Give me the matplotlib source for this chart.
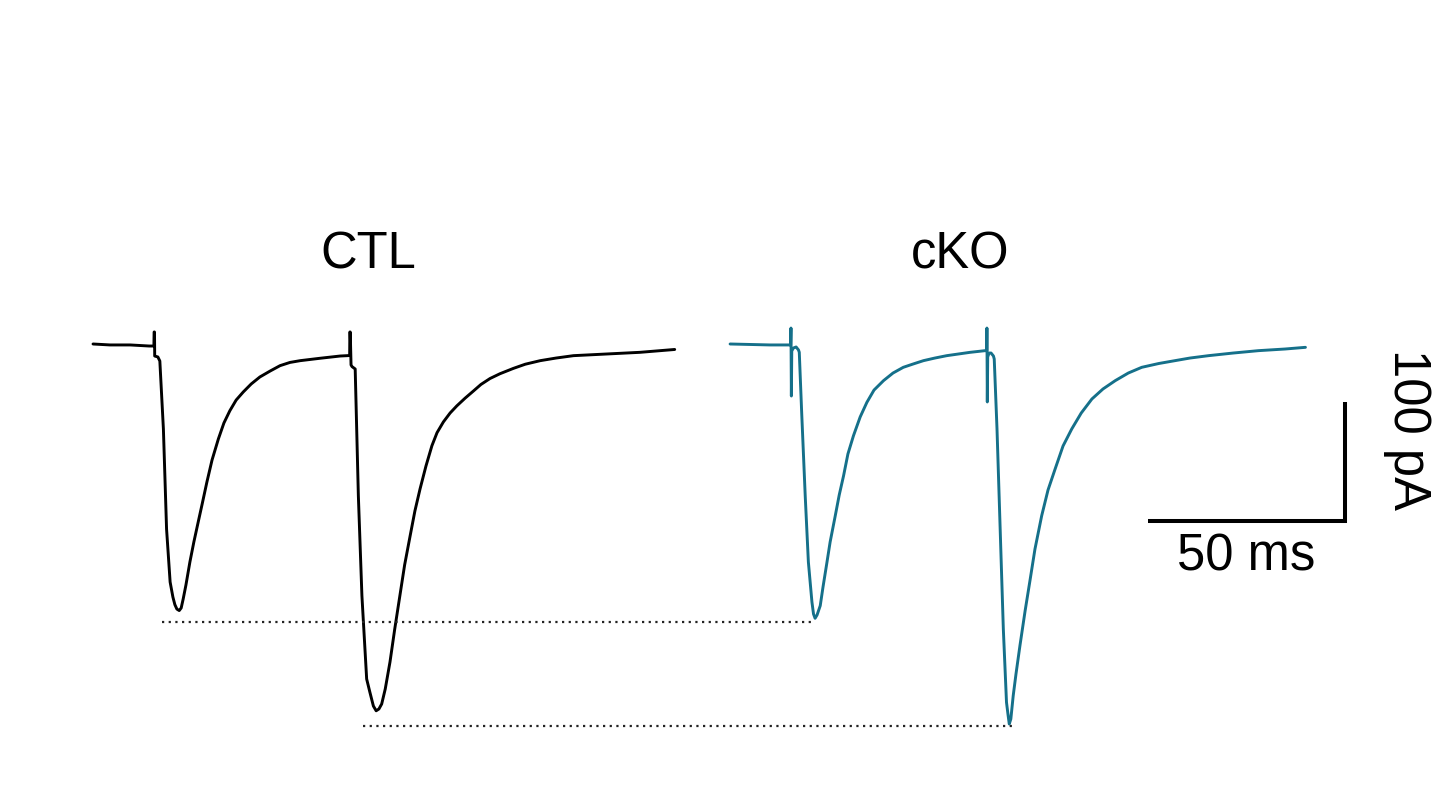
import matplotlib.pyplot as plt

# paired-pulse EPSC traces, time in ms from trace start, current in pA
ctl_time = [0, 4.3, 9.4, 14.2, 15.4, 15.45, 15.55, 15.6, 16.4, 16.9, 17.8, 18.6,
            19.5, 20.2, 20.7, 21.2, 21.8, 22.3, 22.8, 23.5, 24.5, 25.5, 26.6, 27.6,
            28.8, 30.1, 31.7, 33.1, 34.6, 36.2, 38.0, 40.0, 42.2, 44.8, 47.3, 49.8,
            52.4, 57.4, 62.5, 64.9, 64.95, 65.05, 65.25, 65.5, 66.3,
            67.1, 68.0, 69.2, 70.0, 70.9, 71.6, 72.3, 73.0, 73.9, 75.1, 76.3, 77.6,
            78.8, 80.2, 81.4, 82.7, 84.2, 85.7, 87.0, 88.6, 90.3, 92.0, 94.1, 96.2,
            98.1, 100.4, 102.9, 106.3, 109.3, 113.1, 117.1, 121.5, 129.9, 138.3, 147.1]
ctl_current = [0, -0.8, -0.8, -1.7, -1.7, 10.1, 10.1, -10.1, -10.9, -14.3, -71.4,
               -155.5, -200.0, -212.6, -219.0, -222.7, -224.0, -221.8, -214.3, -202.5,
               -183.2, -166.4, -149.6, -134.5, -116.0, -97.5, -79.8, -66.4, -56.1,
               -47.1, -40.3, -33.6, -27.7, -22.7, -18.2, -15.5, -14.0, -12.0,
               -10.1, -9.7, 10.1, 10.1, -17.6, -19.0, -21.0, -127.5, -211.5, -281.5,
               -292.4, -304.2, -308.2, -306.7, -302.5, -289.9, -267.2, -239.5, -211.5,
               -185.7, -161.1, -140.3, -121.8, -102.5, -85.5, -74.5, -65.5, -58.0,
               -52.0, -45.5, -39.5, -34.0, -29.0, -25.0, -20.5, -17.0, -14.0, -11.8,
               -9.8, -8.4, -7.0, -4.6]

cko_time = [0, 5.06, 10.1, 14.9, 15.3, 15.4, 15.5, 15.6, 16.0, 16.7, 17.3, 17.5,
            18.1, 19.0, 19.8, 20.7, 21.1, 21.5, 22.0, 22.8, 23.5, 24.5, 25.3, 26.6,
            27.6, 28.7, 29.8, 31.2, 32.9, 34.6, 36.4, 38.8, 41.2, 43.8, 46.3, 48.9,
            51.8, 54.8, 60.7, 64.5, 64.9, 64.95, 65.05, 65.15,
            65.5, 66.0, 66.6, 66.8, 67.5, 68.3, 69.1, 69.9, 70.3, 70.6, 71.0, 71.6,
            72.3, 73.3, 74.6, 75.9, 77.1, 78.8, 80.4, 82.2, 84.2, 86.4, 88.8, 91.5,
            94.3, 97.4, 100.7, 104.1, 108.4, 112.5, 116.3, 121.0, 127.2, 133.6,
            140.4, 145.5]
cko_current = [0, -0.4, -0.8, -0.8, -0.8, 13.4, -43.7, -5.9, -3.4, -2.5, -5.0, -7.0,
               -57.1, -127.5, -183.2, -216.8, -226.9, -230.5, -227.7, -219.9, -204.2,
               -183.4, -166.4, -144.3, -126.9, -110.7, -92.4, -77.1, -61.3, -49.0,
               -38.7, -30.8, -24.4, -19.6, -16.8, -14.0, -11.8, -9.8, -7.0, -5.6,
               -5.6, 13.4, -48.7, -10.9,
               -7.6, -7.6, -10.1, -12.6, -71.4, -155.5, -239.5, -301.1, -311.8,
               -319.3, -315.1, -295.5, -277.3, -253.5, -224.4, -197.5, -172.3, -144.3,
               -122.7, -105.0, -85.7, -71.4, -58.0, -46.2, -37.8, -30.8, -24.4, -19.6,
               -16.4, -14.0, -11.8, -9.8, -7.6, -5.6, -4.2, -2.8]

labels = ["CTL", "cKO"]
cko_offset = 161.1  # ms, horizontal shift of the cKO trace

# dotted comparison lines (level in pA, start and end in ms)
ref_levels = [-233.9, -321.3]
ref_starts = [17.4, 68.3]
ref_ends = [182.6, 233.5]

scale_ms = 50
scale_pa = 100

fig = plt.figure(figsize=(14.49, 8.04), dpi=100)
ax = fig.add_axes([0, 0, 1, 1])
ax.set_xlim(-23.52, 342.9)
ax.set_ylim(-385.7, 289.9)
ax.axis("off")

ax.plot(ctl_time, ctl_current, color="black", lw=2.1,
        solid_joinstyle="round", solid_capstyle="round")
ax.plot([t + cko_offset for t in cko_time], cko_current, color="#15708a", lw=2.1,
        solid_joinstyle="round", solid_capstyle="round")

for level, x0, x1 in zip(ref_levels, ref_starts, ref_ends):
    ax.plot([x0, x1], [level, level], color="#222222", lw=1.6, linestyle=(0, (1, 2)))

# scale bar
bar_x, bar_y = 316.7, -148.5
ax.plot([bar_x - scale_ms, bar_x, bar_x], [bar_y, bar_y, bar_y + scale_pa],
        color="black", lw=2.9, solid_joinstyle="miter", solid_capstyle="butt")

font = dict(family=["Liberation Sans", "DejaVu Sans"], fontsize=36.5)
ax.text(69.6, 64.5, labels[0], ha="center", va="baseline", **font)
ax.text(219.3, 64.5, labels[1], ha="center", va="baseline", **font)
ax.text(bar_x - scale_ms / 2 - 0.2, -189.1, f"{scale_ms} ms", ha="center",
        va="baseline", **font)
ax.text(332.3, -70.6, f"{scale_pa} pA", ha="center", va="center", rotation=270, **font)

plt.savefig("out.png", dpi=100)
plt.close()
